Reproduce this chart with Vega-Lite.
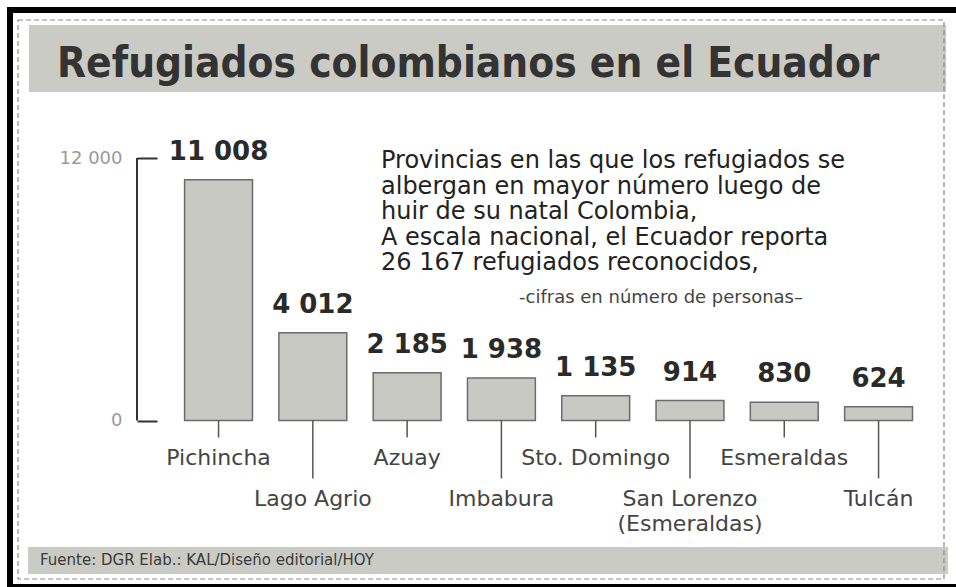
{
  "$schema": "https://vega.github.io/schema/vega-lite/v6.json",
  "width": 956,
  "height": 587,
  "padding": 0,
  "autosize": "none",
  "background": "white",
  "config": {
    "view": {"stroke": null},
    "locale": {"number": {"decimal": ",", "thousands": " ", "grouping": [3], "currency": ["", ""]}}
  },
  "datasets": {
    "prov": [
      {"prov": "Pichincha", "n": 11008},
      {"prov": "Lago Agrio", "n": 4012},
      {"prov": "Azuay", "n": 2185},
      {"prov": "Imbabura", "n": 1938},
      {"prov": "Sto. Domingo", "n": 1135},
      {"prov": "San Lorenzo\n(Esmeraldas)", "n": 914},
      {"prov": "Esmeraldas", "n": 830},
      {"prov": "Tulcán", "n": 624}
    ],
    "one": [{}]
  },
  "layer": [
    {
      "data": {"name": "one"},
      "encoding": {
        "x": {"datum": 0, "type": "quantitative", "scale": {"domain": [0, 956], "nice": false, "zero": false}, "axis": null},
        "y": {"datum": 0, "type": "quantitative", "scale": {"domain": [0, 587], "nice": false, "zero": false, "reverse": true}, "axis": null}
      },
      "layer": [
        {
          "mark": {"type": "rect", "fill": "#cbcbc6"},
          "encoding": {"x": {"datum": 29}, "x2": {"datum": 946}, "y": {"datum": 25}, "y2": {"datum": 92}}
        },
        {
          "mark": {"type": "rect", "fill": "#cbcbc6"},
          "encoding": {"x": {"datum": 28}, "x2": {"datum": 948}, "y": {"datum": 547}, "y2": {"datum": 574}}
        },
        {
          "mark": {"type": "rect", "fill": null, "stroke": "#8a8a8a", "strokeWidth": 1.2, "strokeDash": [5, 3]},
          "encoding": {"x": {"datum": 18}, "x2": {"datum": 944}, "y": {"datum": 20}, "y2": {"datum": 579}}
        },
        {
          "mark": {"type": "rect", "fill": null, "stroke": "black", "strokeWidth": 6},
          "encoding": {"x": {"datum": 10}, "x2": {"datum": 975}, "y": {"datum": 10}, "y2": {"datum": 587}}
        },
        {
          "mark": {"type": "rule", "color": "#333333", "strokeWidth": 2},
          "encoding": {"x": {"datum": 137}, "y": {"datum": 158}, "y2": {"datum": 420.5}}
        },
        {
          "mark": {"type": "text", "align": "left", "baseline": "alphabetic", "font": "DejaVu Sans Condensed", "fontWeight": "bold", "fontSize": 42, "color": "#333333"},
          "encoding": {"x": {"datum": 57}, "y": {"datum": 77}, "text": {"value": "Refugiados colombianos en el Ecuador"}}
        },
        {
          "mark": {"type": "text", "align": "left", "baseline": "alphabetic", "font": "DejaVu Sans", "fontSize": 24, "lineHeight": 25.5, "color": "#222222", "lineBreak": "\n"},
          "encoding": {"x": {"datum": 381}, "y": {"datum": 168}, "text": {"value": "Provincias en las que los refugiados se\nalbergan en mayor número  luego de\nhuir de su natal Colombia,\nA escala nacional, el Ecuador reporta\n26 167 refugiados reconocidos,"}}
        },
        {
          "mark": {"type": "text", "align": "center", "baseline": "alphabetic", "font": "DejaVu Sans", "fontSize": 18, "color": "#444444"},
          "encoding": {"x": {"datum": 661}, "y": {"datum": 303}, "text": {"value": "-cifras en número de personas–"}}
        },
        {
          "mark": {"type": "text", "align": "left", "baseline": "middle", "font": "DejaVu Sans", "fontSize": 15, "color": "#3a3a3a"},
          "encoding": {"x": {"datum": 40}, "y": {"datum": 560}, "text": {"value": "Fuente: DGR  Elab.: KAL/Diseño editorial/HOY"}}
        }
      ]
    },
    {
      "data": {"name": "prov"},
      "transform": [{"window": [{"op": "row_number", "as": "rn"}]}],
      "encoding": {
        "x": {
          "field": "prov", "type": "nominal", "sort": null,
          "scale": {
            "domain": ["Pichincha", "Lago Agrio", "Azuay", "Imbabura", "Sto. Domingo", "San Lorenzo\n(Esmeraldas)", "Esmeraldas", "Tulcán"],
            "range": [171.4, 925.7], "paddingInner": 0.28, "paddingOuter": 0.14
          },
          "axis": null
        },
        "y": {
          "field": "n", "type": "quantitative",
          "scale": {"domain": [-7611, 19223], "nice": false, "zero": false},
          "axis": {
            "values": [0, 12000], "labelExpr": "format(datum.value, ',')", "offset": -137, "domain": false, "grid": false,
            "ticks": true, "tickSize": -20, "tickWidth": 2, "tickColor": "#333333",
            "labelColor": "#9a9a9a", "labelFont": "DejaVu Sans", "labelFontSize": 18, "labelPadding": 35, "title": null
          }
        }
      },
      "layer": [
        {"mark": {"type": "bar", "fill": "#c9c9c4", "stroke": "#6b6b6b", "strokeWidth": 1.5}},
        {
          "mark": {"type": "text", "baseline": "alphabetic", "dy": -20, "font": "DejaVu Sans", "fontWeight": "bold", "fontSize": 26, "color": "#2a2a2a"},
          "encoding": {"text": {"field": "n", "type": "quantitative", "format": ","}}
        },
        {
          "transform": [{"filter": "datum.rn % 2 == 1"}],
          "mark": {"type": "rule", "color": "#555555", "strokeWidth": 1.5},
          "encoding": {"y": {"datum": 0}, "y2": {"datum": -776}}
        },
        {
          "transform": [{"filter": "datum.rn % 2 == 0"}],
          "mark": {"type": "rule", "color": "#555555", "strokeWidth": 1.5},
          "encoding": {"y": {"datum": 0}, "y2": {"datum": -2646}}
        },
        {
          "transform": [{"filter": "datum.rn % 2 == 1"}],
          "mark": {"type": "text", "baseline": "alphabetic", "font": "DejaVu Sans", "fontSize": 22, "color": "#444444", "lineBreak": "\n", "lineHeight": 25},
          "encoding": {"y": {"datum": -2034}, "text": {"field": "prov"}}
        },
        {
          "transform": [{"filter": "datum.rn % 2 == 0"}],
          "mark": {"type": "text", "baseline": "alphabetic", "font": "DejaVu Sans", "fontSize": 22, "color": "#444444", "lineBreak": "\n", "lineHeight": 25},
          "encoding": {"y": {"datum": -3909}, "text": {"field": "prov"}}
        }
      ]
    }
  ],
  "resolve": {"scale": {"x": "independent", "y": "independent"}, "axis": {"x": "independent", "y": "independent"}}
}
